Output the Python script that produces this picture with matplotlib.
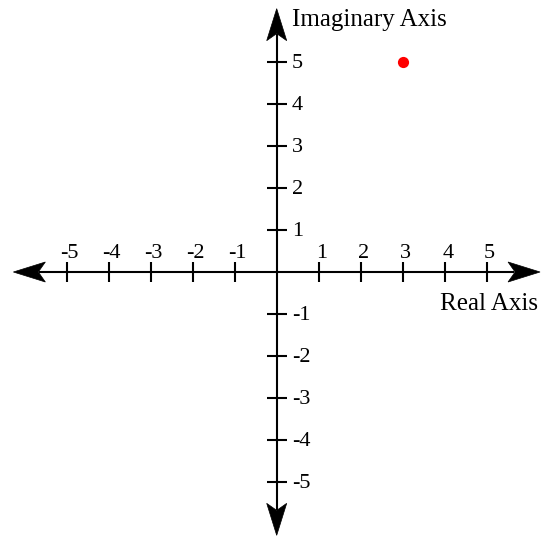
import numpy as np
import matplotlib.pyplot as plt
from matplotlib.patches import Polygon

# data
tick_values = [-5, -4, -3, -2, -1, 1, 2, 3, 4, 5]
tick_labels = ["-5", "-4", "-3", "-2", "-1", "1", "2", "3", "4", "5"]
point_re = [3]
point_im = [5]
x_label = "Real Axis"
y_label = "Imaginary Axis"

# layout (data units, 42 px per unit)
px = 1 / 42.0
axis_end = 6.27
head_len = 32 * px
head_half = 10 * px
tick_half = 10 * px

plt.rcParams["font.family"] = ["Liberation Serif", "DejaVu Serif"]

fig = plt.figure(figsize=(5.45, 5.37), dpi=100)
ax = fig.add_axes([0, 0, 1, 1])
ax.set_xlim(-276.7 * px, (545 - 276.7) * px)
ax.set_ylim(-265 * px, 272 * px)
ax.axis("off")

lw = 1.5
# axis lines (stop where the arrowheads start)
stop = axis_end - 0.8 * head_len
ax.plot([-stop, stop], [0, 0], color="black", lw=lw, solid_capstyle="butt")
ax.plot([0, 0], [-stop, stop], color="black", lw=lw, solid_capstyle="butt")


def arrow_head(direction):
    # stealth-style head pointing along direction (dx, dy)
    dx, dy = direction
    tip = np.array([dx, dy]) * axis_end
    back = np.array([dx, dy]) * (axis_end - head_len)
    notch = np.array([dx, dy]) * (axis_end - 0.78 * head_len)
    perp = np.array([-dy, dx]) * head_half
    pts = [tip, back + perp, notch, back - perp]
    ax.add_patch(Polygon(pts, closed=True, facecolor="black", edgecolor="black", lw=0.5))


for d in [(1, 0), (-1, 0), (0, 1), (0, -1)]:
    arrow_head(d)

# tick marks
ax.vlines(tick_values, -tick_half, tick_half, color="black", lw=lw)
ax.hlines(tick_values, -tick_half, tick_half, color="black", lw=lw)

# tick labels
for v, lab in zip(tick_values, tick_labels):
    ax.text(v + 3 * px, 14 * px, lab, ha="center", va="baseline", fontsize=16)
    ax.text(15.3 * px, v - 5.5 * px, lab, ha="left", va="baseline", fontsize=16)

# axis titles
ax.text(0.37, 5.857, y_label, ha="left", va="baseline", fontsize=18)
ax.text(3.89, -0.905, x_label, ha="left", va="baseline", fontsize=18)

# the point
ax.scatter(point_re, point_im, s=65, color="red", zorder=3, linewidths=0)

fig.savefig("out.png", dpi=100)
